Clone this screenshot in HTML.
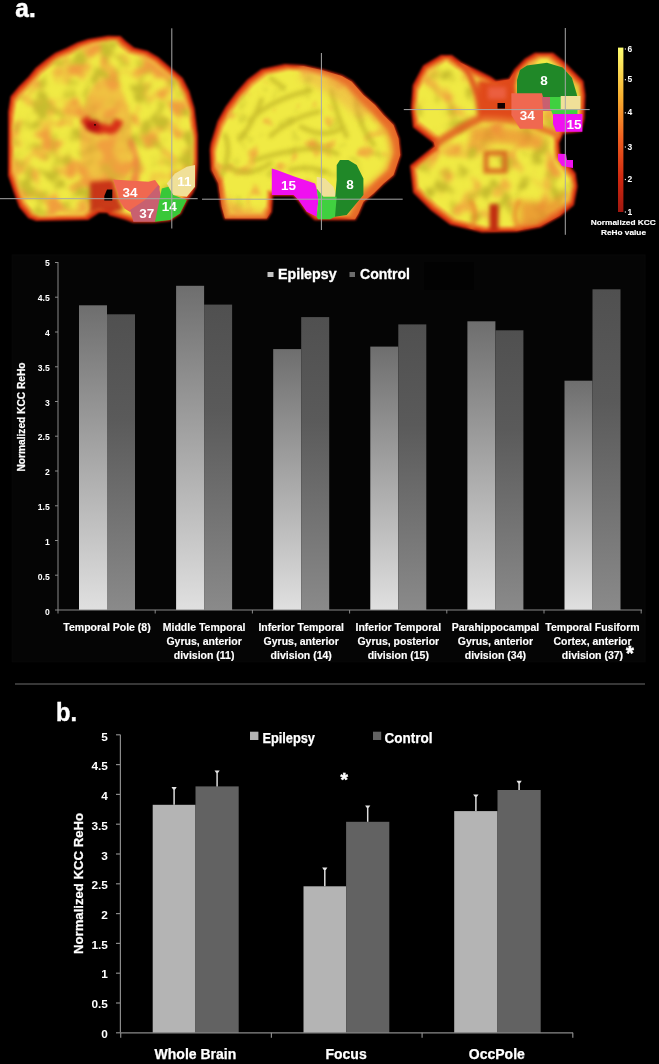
<!DOCTYPE html>
<html><head><meta charset="utf-8"><style>
html,body{margin:0;padding:0;background:#000;width:659px;height:1064px;overflow:hidden}
svg{display:block;will-change:transform}
text{font-family:"Liberation Sans",sans-serif;font-weight:bold;fill:#fff}
.ta{font-size:8.6px}
.la{font-size:10.5px;stroke:#fff;stroke-width:0.15px}
.yt{font-size:11px;stroke:#fff;stroke-width:0.2px}
.lg{font-size:15px;stroke:#fff;stroke-width:0.3px}
.big{font-size:25px;stroke:#fff;stroke-width:0.4px}
.tb{font-size:11.8px}
.lb{font-size:14px;stroke:#fff;stroke-width:0.25px}
.ytb{font-size:13.5px;stroke:#fff;stroke-width:0.25px}
.lgb{font-size:14px;stroke:#fff;stroke-width:0.25px}
.ast{font-size:20px;stroke:#fff;stroke-width:0.6px}
.astb{font-size:19px;stroke:#fff;stroke-width:0.6px}
.cb{font-size:8.5px}
.cbt{font-size:8px;stroke:#fff;stroke-width:0.15px}
.bl{font-size:13.5px;text-anchor:middle}
</style></head><body>
<svg width="659" height="1064" viewBox="0 0 659 1064">
<defs>
<linearGradient id="ge" x1="0" y1="0" x2="0" y2="1"><stop offset="0" stop-color="#6e6e6e"/><stop offset="1" stop-color="#e0e0e0"/></linearGradient>
<linearGradient id="gc" x1="0" y1="0" x2="0" y2="1"><stop offset="0" stop-color="#505050"/><stop offset="0.35" stop-color="#5a5a5a"/><stop offset="1" stop-color="#8a8a8a"/></linearGradient>
<linearGradient id="cbar" x1="0" y1="0" x2="0" y2="1"><stop offset="0" stop-color="#ffff70"/><stop offset="0.3" stop-color="#f8b030"/><stop offset="0.55" stop-color="#f06020"/><stop offset="0.8" stop-color="#d02810"/><stop offset="1" stop-color="#a01810"/></linearGradient>
<filter id="blur1" x="-10%" y="-10%" width="120%" height="120%"><feGaussianBlur stdDeviation="1.2"/></filter>
<filter id="blur3" x="-10%" y="-10%" width="120%" height="120%"><feGaussianBlur stdDeviation="3"/></filter>
</defs>
<rect width="659" height="1064" fill="#000"/>
<rect x="12.2" y="255" width="632.8" height="406.8" fill="#050505" stroke="#080808" stroke-width="1"/>
<rect x="424" y="262" width="50" height="28" fill="#020202"/>
<rect x="79.0" y="305.3" width="28" height="304.7" fill="url(#ge)"/>
<rect x="107.0" y="314.3" width="28" height="295.7" fill="url(#gc)"/>
<rect x="176.1" y="285.8" width="28" height="324.2" fill="url(#ge)"/>
<rect x="204.1" y="304.6" width="28" height="305.4" fill="url(#gc)"/>
<rect x="273.2" y="349.1" width="28" height="260.9" fill="url(#ge)"/>
<rect x="301.2" y="317.1" width="28" height="292.9" fill="url(#gc)"/>
<rect x="370.3" y="346.6" width="28" height="263.4" fill="url(#ge)"/>
<rect x="398.3" y="324.4" width="28" height="285.6" fill="url(#gc)"/>
<rect x="467.4" y="321.3" width="28" height="288.7" fill="url(#ge)"/>
<rect x="495.4" y="330.3" width="28" height="279.7" fill="url(#gc)"/>
<rect x="564.5" y="380.7" width="28" height="229.3" fill="url(#ge)"/>
<rect x="592.5" y="289.3" width="28" height="320.7" fill="url(#gc)"/>
<line x1="58" y1="262" x2="58" y2="610.0" stroke="#8a8a8a" stroke-width="1"/>
<line x1="58" y1="610.0" x2="642" y2="610.0" stroke="#8a8a8a" stroke-width="1"/>
<line x1="55" y1="610.0" x2="58" y2="610.0" stroke="#8a8a8a" stroke-width="1"/>
<text x="49.8" y="614.7" class="ta" text-anchor="end">0</text>
<line x1="55" y1="575.2" x2="58" y2="575.2" stroke="#8a8a8a" stroke-width="1"/>
<text x="49.8" y="579.8" class="ta" text-anchor="end">0.5</text>
<line x1="55" y1="540.5" x2="58" y2="540.5" stroke="#8a8a8a" stroke-width="1"/>
<text x="49.8" y="545.0" class="ta" text-anchor="end">1</text>
<line x1="55" y1="505.8" x2="58" y2="505.8" stroke="#8a8a8a" stroke-width="1"/>
<text x="49.8" y="510.1" class="ta" text-anchor="end">1.5</text>
<line x1="55" y1="471.0" x2="58" y2="471.0" stroke="#8a8a8a" stroke-width="1"/>
<text x="49.8" y="475.2" class="ta" text-anchor="end">2</text>
<line x1="55" y1="436.2" x2="58" y2="436.2" stroke="#8a8a8a" stroke-width="1"/>
<text x="49.8" y="440.4" class="ta" text-anchor="end">2.5</text>
<line x1="55" y1="401.5" x2="58" y2="401.5" stroke="#8a8a8a" stroke-width="1"/>
<text x="49.8" y="405.5" class="ta" text-anchor="end">3</text>
<line x1="55" y1="366.8" x2="58" y2="366.8" stroke="#8a8a8a" stroke-width="1"/>
<text x="49.8" y="370.6" class="ta" text-anchor="end">3.5</text>
<line x1="55" y1="332.0" x2="58" y2="332.0" stroke="#8a8a8a" stroke-width="1"/>
<text x="49.8" y="335.7" class="ta" text-anchor="end">4</text>
<line x1="55" y1="297.2" x2="58" y2="297.2" stroke="#8a8a8a" stroke-width="1"/>
<text x="49.8" y="300.9" class="ta" text-anchor="end">4.5</text>
<line x1="55" y1="262.5" x2="58" y2="262.5" stroke="#8a8a8a" stroke-width="1"/>
<text x="49.8" y="266.0" class="ta" text-anchor="end">5</text>
<line x1="58.0" y1="610.0" x2="58.0" y2="613.5" stroke="#8a8a8a" stroke-width="1"/>
<line x1="155.2" y1="610.0" x2="155.2" y2="613.5" stroke="#8a8a8a" stroke-width="1"/>
<line x1="252.4" y1="610.0" x2="252.4" y2="613.5" stroke="#8a8a8a" stroke-width="1"/>
<line x1="349.6" y1="610.0" x2="349.6" y2="613.5" stroke="#8a8a8a" stroke-width="1"/>
<line x1="446.8" y1="610.0" x2="446.8" y2="613.5" stroke="#8a8a8a" stroke-width="1"/>
<line x1="544.0" y1="610.0" x2="544.0" y2="613.5" stroke="#8a8a8a" stroke-width="1"/>
<line x1="641.2" y1="610.0" x2="641.2" y2="613.5" stroke="#8a8a8a" stroke-width="1"/>
<text x="107.0" y="631" class="la" text-anchor="middle">Temporal Pole (8)</text>
<text x="204.1" y="631" class="la" text-anchor="middle">Middle Temporal</text>
<text x="204.1" y="645" class="la" text-anchor="middle">Gyrus, anterior</text>
<text x="204.1" y="659" class="la" text-anchor="middle">division (11)</text>
<text x="301.2" y="631" class="la" text-anchor="middle">Inferior Temporal</text>
<text x="301.2" y="645" class="la" text-anchor="middle">Gyrus, anterior</text>
<text x="301.2" y="659" class="la" text-anchor="middle">division (14)</text>
<text x="398.3" y="631" class="la" text-anchor="middle">Inferior Temporal</text>
<text x="398.3" y="645" class="la" text-anchor="middle">Gyrus, posterior</text>
<text x="398.3" y="659" class="la" text-anchor="middle">division (15)</text>
<text x="495.4" y="631" class="la" text-anchor="middle">Parahippocampal</text>
<text x="495.4" y="645" class="la" text-anchor="middle">Gyrus, anterior</text>
<text x="495.4" y="659" class="la" text-anchor="middle">division (34)</text>
<text x="592.5" y="631" class="la" text-anchor="middle">Temporal Fusiform</text>
<text x="592.5" y="645" class="la" text-anchor="middle">Cortex, anterior</text>
<text x="592.5" y="659" class="la" text-anchor="middle">division (37)</text>
<text x="629.9" y="659.8" class="ast" text-anchor="middle">*</text>
<text transform="translate(24.5,417) rotate(-90)" class="yt" text-anchor="middle" textLength="109" lengthAdjust="spacingAndGlyphs">Normalized KCC ReHo</text>
<rect x="267.5" y="272" width="6" height="5" fill="#c4c4c4"/>
<rect x="349.5" y="272" width="5.5" height="5" fill="#6c6c6c"/>
<text x="278" y="278.7" class="lg" textLength="58.6" lengthAdjust="spacingAndGlyphs">Epilepsy</text>
<text x="360" y="278.7" class="lg" textLength="50" lengthAdjust="spacingAndGlyphs">Control</text>
<line x1="15" y1="684" x2="645" y2="684" stroke="#4a4a4a" stroke-width="1.6"/>
<text x="56" y="721" class="big" textLength="21" lengthAdjust="spacingAndGlyphs">b.</text>
<rect x="152.7" y="804.8" width="42.8" height="228.0" fill="#b4b4b4"/>
<rect x="195.5" y="786.4" width="43.2" height="246.4" fill="#626262"/>
<line x1="174.1" y1="804.8" x2="174.1" y2="787.6" stroke="#dcdcdc" stroke-width="1.5"/>
<path d="M171.5,787.0 L176.7,787.0 L175.1,789.4 L173.1,789.4 Z" fill="#e4e4e4"/>
<line x1="217.1" y1="786.4" x2="217.1" y2="771.0" stroke="#dcdcdc" stroke-width="1.5"/>
<path d="M214.5,770.4 L219.7,770.4 L218.1,772.8 L216.1,772.8 Z" fill="#e4e4e4"/>
<rect x="303.5" y="886.3" width="42.6" height="146.5" fill="#b4b4b4"/>
<rect x="346.1" y="821.8" width="43.2" height="211.0" fill="#626262"/>
<line x1="324.8" y1="886.3" x2="324.8" y2="868.2" stroke="#dcdcdc" stroke-width="1.5"/>
<path d="M322.2,867.6 L327.4,867.6 L325.8,870.0 L323.8,870.0 Z" fill="#e4e4e4"/>
<line x1="367.7" y1="821.8" x2="367.7" y2="806.0" stroke="#dcdcdc" stroke-width="1.5"/>
<path d="M365.1,805.4 L370.3,805.4 L368.7,807.8 L366.7,807.8 Z" fill="#e4e4e4"/>
<rect x="454.2" y="811.1" width="43.3" height="221.7" fill="#b4b4b4"/>
<rect x="497.5" y="790.0" width="43.2" height="242.8" fill="#626262"/>
<line x1="475.9" y1="811.1" x2="475.9" y2="795.0" stroke="#dcdcdc" stroke-width="1.5"/>
<path d="M473.2,794.4 L478.5,794.4 L476.9,796.8 L474.9,796.8 Z" fill="#e4e4e4"/>
<line x1="519.1" y1="790.0" x2="519.1" y2="781.4" stroke="#dcdcdc" stroke-width="1.5"/>
<path d="M516.5,780.8 L521.7,780.8 L520.1,783.2 L518.1,783.2 Z" fill="#e4e4e4"/>
<line x1="120.4" y1="734.8" x2="120.4" y2="1032.8" stroke="#8a8a8a" stroke-width="1.2"/>
<line x1="120.4" y1="1032.8" x2="573" y2="1032.8" stroke="#8a8a8a" stroke-width="1.2"/>
<line x1="116" y1="1032.8" x2="120.4" y2="1032.8" stroke="#8a8a8a" stroke-width="1.2"/>
<text x="107.9" y="1037.6" class="tb" text-anchor="end">0</text>
<line x1="116" y1="1003.0" x2="120.4" y2="1003.0" stroke="#8a8a8a" stroke-width="1.2"/>
<text x="107.9" y="1007.9" class="tb" text-anchor="end">0.5</text>
<line x1="116" y1="973.2" x2="120.4" y2="973.2" stroke="#8a8a8a" stroke-width="1.2"/>
<text x="107.9" y="978.2" class="tb" text-anchor="end">1</text>
<line x1="116" y1="943.4" x2="120.4" y2="943.4" stroke="#8a8a8a" stroke-width="1.2"/>
<text x="107.9" y="948.5" class="tb" text-anchor="end">1.5</text>
<line x1="116" y1="913.6" x2="120.4" y2="913.6" stroke="#8a8a8a" stroke-width="1.2"/>
<text x="107.9" y="918.8" class="tb" text-anchor="end">2</text>
<line x1="116" y1="883.8" x2="120.4" y2="883.8" stroke="#8a8a8a" stroke-width="1.2"/>
<text x="107.9" y="889.2" class="tb" text-anchor="end">2.5</text>
<line x1="116" y1="854.0" x2="120.4" y2="854.0" stroke="#8a8a8a" stroke-width="1.2"/>
<text x="107.9" y="859.5" class="tb" text-anchor="end">3</text>
<line x1="116" y1="824.2" x2="120.4" y2="824.2" stroke="#8a8a8a" stroke-width="1.2"/>
<text x="107.9" y="829.8" class="tb" text-anchor="end">3.5</text>
<line x1="116" y1="794.4" x2="120.4" y2="794.4" stroke="#8a8a8a" stroke-width="1.2"/>
<text x="107.9" y="800.1" class="tb" text-anchor="end">4</text>
<line x1="116" y1="764.6" x2="120.4" y2="764.6" stroke="#8a8a8a" stroke-width="1.2"/>
<text x="107.9" y="770.4" class="tb" text-anchor="end">4.5</text>
<line x1="116" y1="734.8" x2="120.4" y2="734.8" stroke="#8a8a8a" stroke-width="1.2"/>
<text x="107.9" y="740.7" class="tb" text-anchor="end">5</text>
<line x1="120.7" y1="1032.8" x2="120.7" y2="1037.8" stroke="#8a8a8a" stroke-width="1.2"/>
<line x1="271.4" y1="1032.8" x2="271.4" y2="1037.8" stroke="#8a8a8a" stroke-width="1.2"/>
<line x1="422.1" y1="1032.8" x2="422.1" y2="1037.8" stroke="#8a8a8a" stroke-width="1.2"/>
<line x1="572.8" y1="1032.8" x2="572.8" y2="1037.8" stroke="#8a8a8a" stroke-width="1.2"/>
<text x="195.4" y="1059.3" class="lb" text-anchor="middle">Whole Brain</text>
<text x="346.1" y="1059.3" class="lb" text-anchor="middle">Focus</text>
<text x="496.8" y="1059.3" class="lb" text-anchor="middle">OccPole</text>
<text x="344.2" y="785.8" class="astb" text-anchor="middle">*</text>
<text transform="translate(82.5,883.5) rotate(-90)" class="ytb" text-anchor="middle" textLength="141" lengthAdjust="spacingAndGlyphs">Normalized KCC ReHo</text>
<rect x="250" y="731.7" width="8.4" height="8.3" fill="#b4b4b4"/>
<rect x="373" y="731.7" width="8.2" height="8.3" fill="#626262"/>
<text x="262.4" y="742.8" class="lgb" textLength="52.6" lengthAdjust="spacingAndGlyphs">Epilepsy</text>
<text x="384.6" y="742.8" class="lgb" textLength="48" lengthAdjust="spacingAndGlyphs">Control</text>
<text x="15.3" y="17" class="big" textLength="20.4" lengthAdjust="spacingAndGlyphs" style="stroke:#fff;stroke-width:0.5px">a.</text>
<defs>
<filter color-interpolation-filters="sRGB" id="bf" x="-5%" y="-5%" width="110%" height="110%">
  <feMorphology in="SourceAlpha" operator="erode" radius="2.4" result="e1"/>
  <feMorphology in="SourceAlpha" operator="erode" radius="3.6" result="e2"/>
  <feMorphology in="SourceAlpha" operator="erode" radius="5.5" result="e3"/>
  <feFlood flood-color="#d02810"/><feComposite in2="SourceAlpha" operator="in" result="l0"/>
  <feFlood flood-color="#e8621e"/><feComposite in2="e1" operator="in" result="l1"/>
  <feFlood flood-color="#f0a83a"/><feComposite in2="e2" operator="in" result="l2"/>
  <feFlood flood-color="#f0ea44"/><feComposite in2="e3" operator="in" result="l3"/>
  <feMerge><feMergeNode in="l0"/><feMergeNode in="l1"/><feMergeNode in="l2"/><feMergeNode in="l3"/></feMerge>
  <feGaussianBlur stdDeviation="0.8"/>
</filter>
<filter color-interpolation-filters="sRGB" id="texC" x="0" y="0" width="100%" height="100%">
  <feTurbulence type="fractalNoise" baseFrequency="0.05" numOctaves="2" seed="7" result="n"/>
  <feColorMatrix in="n" type="matrix" values="0 0 0 0 0.94  0 0 0 0 0.62  0 0 0 0 0.24  5 0 0 0 -2.3" result="o"/>
  <feMorphology in="SourceAlpha" operator="erode" radius="4" result="inner"/>
  <feComposite in="o" in2="inner" operator="in" result="oo"/>
  <feTurbulence type="fractalNoise" baseFrequency="0.06" numOctaves="2" seed="21" result="n2"/>
  <feColorMatrix in="n2" type="matrix" values="0 0 0 0 0.78  0 0 0 0 0.74  0 0 0 0 0.18  5 0 0 0 -2.5" result="g"/>
  <feComposite in="g" in2="inner" operator="in" result="gg"/>
  <feMerge><feMergeNode in="oo"/><feMergeNode in="gg"/></feMerge>
  <feGaussianBlur stdDeviation="2.0"/>
</filter>
<filter color-interpolation-filters="sRGB" id="texS" x="0" y="0" width="100%" height="100%">
  <feTurbulence type="fractalNoise" baseFrequency="0.05" numOctaves="2" seed="11" result="n"/>
  <feColorMatrix in="n" type="matrix" values="0 0 0 0 0.94  0 0 0 0 0.62  0 0 0 0 0.24  4 0 0 0 -2.4" result="o"/>
  <feMorphology in="SourceAlpha" operator="erode" radius="4" result="inner"/>
  <feComposite in="o" in2="inner" operator="in" result="oo"/>
  <feTurbulence type="fractalNoise" baseFrequency="0.06" numOctaves="2" seed="5" result="n2"/>
  <feColorMatrix in="n2" type="matrix" values="0 0 0 0 0.8  0 0 0 0 0.78  0 0 0 0 0.2  3 0 0 0 -1.8" result="g"/>
  <feComposite in="g" in2="inner" operator="in" result="gg"/>
  <feMerge><feMergeNode in="oo"/><feMergeNode in="gg"/></feMerge>
  <feGaussianBlur stdDeviation="1.6"/>
</filter>
<filter color-interpolation-filters="sRGB" id="texA" x="0" y="0" width="100%" height="100%">
  <feTurbulence type="fractalNoise" baseFrequency="0.05" numOctaves="2" seed="3" result="n"/>
  <feColorMatrix in="n" type="matrix" values="0 0 0 0 0.94  0 0 0 0 0.62  0 0 0 0 0.24  4 0 0 0 -2.1" result="o"/>
  <feMorphology in="SourceAlpha" operator="erode" radius="4" result="inner"/>
  <feComposite in="o" in2="inner" operator="in" result="oo"/>
  <feTurbulence type="fractalNoise" baseFrequency="0.06" numOctaves="2" seed="9" result="n2"/>
  <feColorMatrix in="n2" type="matrix" values="0 0 0 0 0.78  0 0 0 0 0.74  0 0 0 0 0.18  5 0 0 0 -2.6" result="g"/>
  <feComposite in="g" in2="inner" operator="in" result="gg"/>
  <feMerge><feMergeNode in="oo"/><feMergeNode in="gg"/></feMerge>
  <feGaussianBlur stdDeviation="2.0"/>
</filter>
<filter color-interpolation-filters="sRGB" id="sb3" x="-30%" y="-30%" width="160%" height="160%"><feGaussianBlur stdDeviation="3.5"/></filter>
<filter color-interpolation-filters="sRGB" id="sb" x="-30%" y="-30%" width="160%" height="160%"><feGaussianBlur stdDeviation="2"/></filter>
<filter color-interpolation-filters="sRGB" id="b05" x="-10%" y="-10%" width="120%" height="120%"><feGaussianBlur stdDeviation="0.5"/></filter>
<path id="pc" d="M108.3,36.7 L120,37 L125,41.7 L133.4,48.4 L146.7,51.7 L158.4,58.4 L170,68.4 L181.8,78.4 L188.5,91.8 L193.5,108.5 L196.8,135 L196.8,163.4 L195,186.8 L191.8,193.4 L186.8,200 L180,213.5 L170,220 L153.4,221.8 L133.4,221.8 L126,219 L110,214.5 L107.8,212 L99.4,211.4 L88,219 L36.4,220 L29,217.4 L20,206.5 L14.6,192 L9.1,175.5 L9.2,111.8 L11.5,97 L19.8,87 L28.8,78 L36,69 L47,60 L56,53.6 L67,49 L77.8,43.5 L88.5,40 Z"/>
<path id="ps" d="M285,65 L303.5,65.9 L321.7,70 L341.7,75.9 L351.8,81.7 L363.4,95 L375,105 L383.5,115 L393.5,125 L398.5,138.5 L400.2,155 L393.5,175 L383.5,183.4 L373.5,193.4 L363.4,201.8 L358.4,213.4 L355,219.3 L315,219.3 L306.7,211.8 L298.5,200 L293.5,195 L271.8,195 L271.8,200 L271,211.8 L266.8,218.4 L225,218.4 L221.7,206.8 L218.4,183.4 L211.7,170 L210.8,150 L211.7,143.5 L218.4,121.8 L226.7,106.8 L236.7,93.4 L248.4,80 L261.8,70 Z"/>
<path id="px" d="M441,56 L451.6,56 L460.7,62.8 L479,72 L491,78 L495.6,81.4 L509.4,79.4 L515.4,69.6 L525.2,59.7 L535,53.8 L552.8,53.8 L562.7,61.7 L572.6,71.6 L582.4,81.4 L584.4,95.2 L583.4,118.9 L580.4,130.7 L562.7,132.7 L558.3,142.8 L559,153.7 L574.7,173.7 L576.5,186.5 L573,204.7 L560,215.6 L540,226.6 L516.4,231 L481,231.4 L450.5,223.8 L432,210 L414,192 L411,166 L435,146.4 L433.8,141.9 L414,126.7 L412,108 L413.7,85.5 L424,66 Z"/>
<clipPath id="cps"><use href="#ps"/></clipPath>
<clipPath id="cpx"><use href="#px"/></clipPath>
<clipPath id="cpc"><use href="#pc"/></clipPath>
</defs>
<!-- coronal -->
<use href="#pc" filter="url(#bf)" stroke="#000" stroke-width="2" stroke-linejoin="round"/>
<use href="#pc" filter="url(#texC)"/>
<g clip-path="url(#cpc)"><g filter="url(#sb)">
<ellipse cx="106" cy="140" rx="26" ry="62" fill="#f0a040" opacity="0.55"/>
<path d="M70,190 Q90,175 112,185" fill="none" stroke="#f09a3a" stroke-width="8" opacity="0.6"/>
<path d="M130,140 Q140,160 134,185" fill="none" stroke="#f07a40" stroke-width="6" opacity="0.7"/>
<path d="M84,118 Q95,134 104,128 Q114,134 119,120" fill="none" stroke="#d83018" stroke-width="9"/>
<ellipse cx="93" cy="126" rx="8" ry="6" fill="#b81010"/>
<path d="M90,182 L113,180 L119,200 L124,210 L110,213 L99,210 L90,213 Z" fill="#c42814" opacity="0.9"/>
</g></g>
<circle cx="95" cy="124.8" r="0.9" fill="#000"/>
<path d="M104.3,196 L107,189.4 L112.3,189.4 L112.3,200.4 L104.3,200.4 Z" fill="#000" filter="url(#b05)"/>

<g filter="url(#b05)">
<path d="M113,179.5 L148.4,181.8 L155,180 L160,186.8 L158.4,193.4 L150,200 L143.4,205 L130,212 L124.5,208.4 L119,200 L117.6,192.5 Z" fill="#f06850"/>
<path d="M130,210 L145,200 L158.4,185 L161.8,200 L158.4,211.8 L155,221.8 L133.4,221.8 Z" fill="#c86070"/>
<path d="M161.8,188.4 L168.4,186.8 L173.4,195 L186.8,200 L180,213.5 L170,220 L155,221.8 L158.4,205 Z" fill="#38c838"/>
<path d="M166.8,183.4 L175,173.4 L186.8,166.7 L195,165 L195,186.8 L186.8,196.8 L173.4,195 Z" fill="#f0e098"/>
</g>
<text x="130" y="196.5" class="bl">34</text>
<text x="146.7" y="217.5" class="bl">37</text>
<text x="169.3" y="211" class="bl">14</text>
<text x="184.3" y="186.2" class="bl">11</text>
<line x1="171.8" y1="28.3" x2="171.8" y2="228.5" stroke="#a8a8a8" stroke-width="1"/>
<line x1="0" y1="198.7" x2="197.7" y2="198.7" stroke="#a8a8a8" stroke-width="1"/>
<!-- sagittal -->
<use href="#ps" filter="url(#bf)" stroke="#000" stroke-width="2" stroke-linejoin="round"/>
<use href="#ps" filter="url(#texS)"/>
<g clip-path="url(#cps)"><g filter="url(#sb)" fill="none" stroke="#c4b82a" stroke-width="4.5" opacity="0.8" stroke-linecap="round">
<path d="M249.5,120.7 Q270,100 310,90.3"/>
<path d="M270.7,135.9 Q290,118 319,111.6"/>
<path d="M255.5,160 Q285,150 316,148 Q330,150 337.5,154"/>
<path d="M240,139 Q252,125 261.6,99.5"/>
<path d="M228,166 Q246,180 270.7,163.2"/>
<path d="M331.4,90.3 Q336,114 346.6,135.9"/>
<path d="M355.7,102.5 Q360,128 373.9,145"/>
<path d="M301,126.8 Q325,140 343.5,126.8"/>
<path d="M270.7,78.2 L282.8,87.3"/>
<path d="M225,135 Q232,150 222,175"/>
<path d="M290,170 Q310,165 325,172"/>
</g>
<g filter="url(#sb3)">
<path d="M300,62 Q350,66 385,100 L360,120 Q330,90 300,80 Z" fill="#f0a848" opacity="0.5"/>
<path d="M225,195 Q245,215 270,210 L268,222 L222,222 Z" fill="#f0a040" opacity="0.6"/>
</g>
<g filter="url(#sb3)">
<path d="M335,70 L352,80 L365,96 L385,116 L397,136 L400,155 L393,175 L381,186 L366,198 L357,213 L353,222" fill="none" stroke="#e8702a" stroke-width="16" opacity="0.9"/>
<path d="M212,170 L220,200 L224,220" fill="none" stroke="#e89a3a" stroke-width="6" opacity="0.7"/>
</g></g>
<g filter="url(#b05)">
<path d="M271.8,168.4 L276.8,170 L295,176.7 L315,183.4 L316.7,188.4 L318.4,200 L316.7,216.8 L306.7,211.8 L298.5,200 L293.5,195 L271.8,195 Z" fill="#f010f0"/>
<path d="M316.7,176.7 L325,178.4 L333.4,186.7 L336.7,196.7 L323.4,196.7 L316.7,188.4 Z" fill="#f0e098"/>
<path d="M340,160 L348.4,160 L356.7,165 L363.4,178.4 L363.4,195 L355,205 L346.7,215 L335,216.8 L335,200 L336.7,180 L336.7,165 Z" fill="#208828"/>
<path d="M316.7,188.4 L323.4,196.7 L336.7,196.7 L335,216.8 L330,219.3 L318,219.3 L316.7,216.8 L318.4,200 Z" fill="#40d040"/>
</g>
<text x="288.5" y="190.4" class="bl">15</text>
<text x="350" y="188.7" class="bl">8</text>
<line x1="321.4" y1="53" x2="321.4" y2="230" stroke="#a8a8a8" stroke-width="1"/>
<line x1="202" y1="199.2" x2="402.7" y2="199.2" stroke="#a8a8a8" stroke-width="1"/>
<!-- axial -->
<use href="#px" filter="url(#bf)" stroke="#000" stroke-width="2" stroke-linejoin="round"/>
<use href="#px" filter="url(#texA)"/>
<g clip-path="url(#cpx)"><g filter="url(#sb3)">
<path d="M470,128 Q500,122 545,135 L540,150 Q500,140 470,145 Z" fill="#ec8a34" opacity="0.7"/>
<path d="M520,200 Q545,205 565,195 L560,220 L520,230 Z" fill="#e8702a" opacity="0.6"/>
</g><g filter="url(#sb)">
<path d="M461,60 Q478,85 481,118" fill="none" stroke="#e05420" stroke-width="6"/>
<path d="M430,148 Q455,130 481,118" fill="none" stroke="#e05a22" stroke-width="8" opacity="0.85"/>
<path d="M478,80 L496,82 L515,72 L518,118 L480,120 Z" fill="#e04a1a"/>
<path d="M481,119 Q520,118 560,136" fill="none" stroke="#e8702a" stroke-width="6"/>
<rect x="486" y="153" width="19" height="18" fill="none" stroke="#d86a22" stroke-width="5"/>
<path d="M494,204 L494,234" fill="none" stroke="#c02a10" stroke-width="9"/>
<path d="M470,200 Q480,215 470,230 M520,200 Q510,215 520,230" fill="none" stroke="#e87a2a" stroke-width="5" opacity="0.7"/>
</g>
<path d="M488,87 L506,87 L506,99 L488,99 Z" fill="#f06850" opacity="0.7" filter="url(#sb)"/>
</g>
<path d="M497.5,103 L505,103 L505,108.6 L497.5,108.6 Z" fill="#100000" filter="url(#b05)"/>
<g filter="url(#b05)">
<path d="M517,80 L520,70 L527,65.6 L547,62.7 L562.7,67.6 L572,78 L576.5,93.3 L577.5,97.2 L517,97.2 Z" fill="#208828"/>
<path d="M511.4,93.3 L542,93.3 L543,97 L543,128.8 L520,128.8 L511.4,115 Z" fill="#f06850"/>
<path d="M542,97 L553,97 L553,111 L543,111 Z" fill="#c86070"/>
<path d="M550,97 L577.5,97 L577.5,115 L553,115 L550,108 Z" fill="#40d040"/>
<path d="M560.7,96 L580.4,96 L580.4,109 L560.7,109 Z" fill="#f0e098"/>
<path d="M553,114 L582.4,114 L582.4,131.7 L556,131.7 L553,124 Z" fill="#f010f0"/>
<path d="M558,153.7 L566,154 L567,160 L573,160 L573,168 L562,166 L558,160 Z" fill="#f010f0"/>
</g>
<text x="544" y="84.9" class="bl">8</text>
<text x="527.2" y="119.8" class="bl">34</text>
<text x="574" y="128.9" class="bl">15</text>
<line x1="565.3" y1="28" x2="565.3" y2="234.8" stroke="#a8a8a8" stroke-width="1"/>
<line x1="403.8" y1="109.6" x2="589.7" y2="109.6" stroke="#a8a8a8" stroke-width="1"/>

<rect x="618" y="47.6" width="5.4" height="164.4" fill="url(#cbar)"/>
<rect x="624.8" y="48.4" width="1.2" height="1.2" fill="#ddd"/>
<text x="627.5" y="51.6" class="cb">6</text>
<rect x="624.8" y="79.1" width="1.2" height="1.2" fill="#ddd"/>
<text x="627.5" y="82.3" class="cb">5</text>
<rect x="624.8" y="112.2" width="1.2" height="1.2" fill="#ddd"/>
<text x="627.5" y="115.4" class="cb">4</text>
<rect x="624.8" y="146.4" width="1.2" height="1.2" fill="#ddd"/>
<text x="627.5" y="149.6" class="cb">3</text>
<rect x="624.8" y="178.9" width="1.2" height="1.2" fill="#ddd"/>
<text x="627.5" y="182.1" class="cb">2</text>
<rect x="624.8" y="211.4" width="1.2" height="1.2" fill="#ddd"/>
<text x="627.5" y="214.6" class="cb">1</text>
<text x="623.3" y="225.3" class="cbt" text-anchor="middle" textLength="65" lengthAdjust="spacingAndGlyphs">Normalized KCC</text>
<text x="623.5" y="235" class="cbt" text-anchor="middle" textLength="45" lengthAdjust="spacingAndGlyphs">ReHo value</text>
</svg>
</body></html>
